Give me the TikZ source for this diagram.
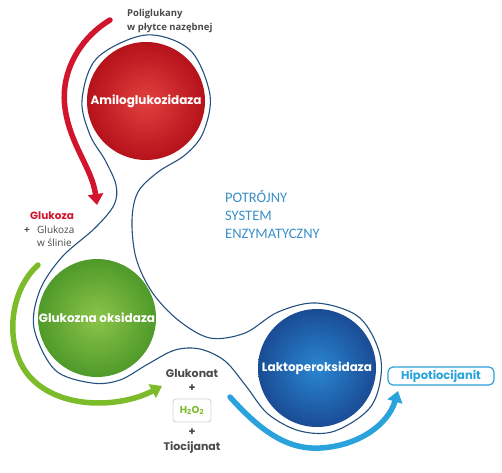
\documentclass[tikz,border=0pt]{standalone}
\usepackage{fontspec}
\setmainfont{Open Sans}
\newfontfamily\popf{Poppins}
\newfontfamily\carf{Carlito}
\usetikzlibrary{arrows.meta}
\definecolor{navy}{HTML}{24507F}
\definecolor{redA}{HTML}{D0152C}
\definecolor{greenA}{HTML}{7CBB2A}
\definecolor{blueA}{HTML}{2AA2DC}
\definecolor{txtgray}{HTML}{4A4A4A}
\definecolor{sysblue}{HTML}{3A8FC7}
\definecolor{redIn}{HTML}{E2403E}
\definecolor{redOut}{HTML}{B5121B}
\definecolor{greenIn}{HTML}{8CC449}
\definecolor{greenOut}{HTML}{4F9A2A}
\definecolor{blueIn}{HTML}{2A86D2}
\definecolor{blueOut}{HTML}{1A4C95}
\tikzset{
  enzyme/.style={circle, minimum size=118pt, inner sep=0pt, text=white,
    font=\popf\bfseries\fontsize{12}{14}\selectfont, shade},
  redball/.style={enzyme, inner color=redIn, outer color=redOut},
  greenball/.style={enzyme, inner color=greenIn, outer color=greenOut},
  blueball/.style={enzyme, inner color=blueIn, outer color=blueOut},
  outline/.style={draw=navy, line width=1.1pt},
  flow/.style={line width=5.5pt, line cap=round, -{Triangle[length=11pt,width=15pt]}},
  grtext/.style={text=txtgray, font=\fontsize{9.5}{11}\selectfont, inner sep=0pt},
  semi/.style={text=txtgray, font=\popf\bfseries\fontsize{11}{13}\selectfont, inner sep=0pt},
  systxt/.style={text=sysblue, font=\carf\fontsize{14.5}{18}\selectfont, inner sep=0pt, anchor=base west},
}
\begin{document}
\begin{tikzpicture}[x=1pt,y=-1pt]
\useasboundingbox (0,0) rectangle (502,472);
% outline around the three enzymes
\draw[outline] plot[smooth cycle, tension=0.55] coordinates {
 (146,35) (190,50) (210,95) (203,133) (185,155) (158,172) (138,192) (132,220)
 (136,258) (152,292) (178,320) (210,338) (245,333) (278,312) (317,303) (360,318)
 (381,360) (372,405) (335,431) (300,431) (268,414) (246,386) (225,361) (200,349)
 (175,350) (148,364) (120,380) (92,383) (55,370) (34,328) (40,290) (62,257)
 (95,228) (114,205) (116,185) (105,160) (90,135) (82,100) (97,58)};
% enzymes
\node[redball] (amy) at (146,101) {Amiloglukozidaza};
\node[greenball] (gox) at (97,318) {Glukozna oksidaza};
\node[blueball] (lpo) at (317,368) {Laktoperoksidaza};
% arrows
\coordinate (rs) at (110,20);
\coordinate (re) at (97,205);
\draw[flow, draw=redA] (rs) .. controls (80,38) and (60,72) .. (65,108) .. controls (70,145) and (92,168) .. (re);
\coordinate (gs) at (38,265);
\coordinate (ge) at (162,386);
\draw[flow, draw=greenA] (gs) .. controls (8,292) and (4,348) .. (30,377) .. controls (60,410) and (120,408) .. (ge);
\coordinate (bs) at (230,397);
\coordinate (be) at (398,391);
\draw[flow, draw=blueA] (bs) .. controls (258,428) and (285,450) .. (320,448) .. controls (358,446) and (388,425) .. (be);
% texts
\node[grtext, font=\bfseries\fontsize{9.5}{11}\selectfont, anchor=base west] (pol1) at (127,16) {Poliglukany};
\node[grtext, font=\bfseries\fontsize{9.5}{11}\selectfont, anchor=base west] (pol2) at (127,30) {w płytce nazębnej};
\node[semi, font=\popf\bfseries\fontsize{10.5}{12}\selectfont, text=redA, anchor=base west] (glu1) at (30,219) {Glukoza};
\node[grtext, font=\bfseries\fontsize{10}{11}\selectfont, anchor=base west] (plus0) at (24,233) {+};
\node[grtext, font=\fontsize{10}{11}\selectfont, anchor=base west] (glu2) at (37,233) {Glukoza};
\node[grtext, font=\fontsize{10}{11}\selectfont, anchor=base west] (glu3) at (37,246) {w ślinie};
\node[systxt] (sys1) at (225,202) {POTRÓJNY};
\node[systxt] (sys2) at (225,220) {SYSTEM};
\node[systxt] (sys3) at (225,238) {ENZYMATYCZNY};
\node[semi, anchor=base] (gkn) at (192,377) {Glukonat};
\node[semi] (p1) at (192,388) {+};
\node[draw=black!18, line width=0.8pt, rounded corners=3pt, minimum width=38pt, minimum height=23pt,
  text=greenA, font=\popf\bfseries\fontsize{10}{12}\selectfont] (h2o) at (192,410.5) {H\textsubscript{2}O\textsubscript{2}};
\node[semi] (p2) at (192,432) {+};
\node[semi, anchor=base] (tio) at (192,450) {Tiocijanat};
\node[draw=blueA, line width=1.2pt, rounded corners=5pt, minimum width=106pt, minimum height=18pt, inner sep=0pt,
  text=blueA, font=\popf\bfseries\fontsize{11.5}{13}\selectfont] (hipo) at (441,376) {Hipotiocijanit};
\end{tikzpicture}
\end{document}
